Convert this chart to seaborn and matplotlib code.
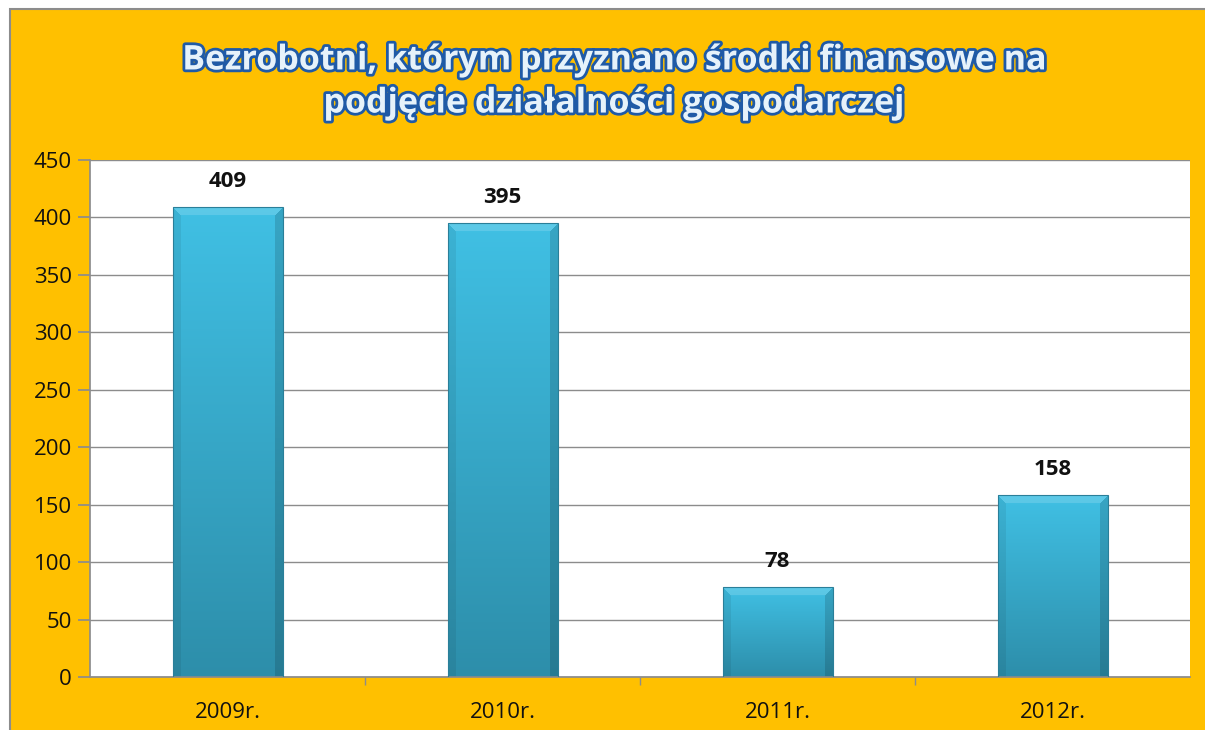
import numpy as np
import pandas as pd
import matplotlib
matplotlib.use("Agg")
import matplotlib.pyplot as plt
import matplotlib.patheffects as pe
from matplotlib.patches import Rectangle
import seaborn as sns

years = ['2009r.', '2010r.', '2011r.', '2012r.']
counts = [409, 395, 78, 158]
title_lines = 'Bezrobotni, którym przyznano środki finansowe na\npodjęcie działalności gospodarczej'

df = pd.DataFrame({'rok': years, 'liczba': counts})

sns.set_theme(style='white')
plt.rcParams['font.family'] = ['Open Sans', 'DejaVu Sans']

fig = plt.figure(figsize=(12.05, 7.3), dpi=100, facecolor='white')

# orange frame behind everything (runs off the right and bottom edges)
fig.patches.append(Rectangle((10 / 1205, -0.05), 1.0, 1.05 - 9 / 730,
                             transform=fig.transFigure, facecolor='#FFC000',
                             edgecolor='#8C8C8C', linewidth=1.5, zorder=-10))

ax = fig.add_axes([90 / 1205, 1 - 677 / 730, 1100 / 1205, 517 / 730])
ax.set_facecolor('white')

sns.barplot(data=df, x='rok', y='liczba', color='#3BB5DA', width=0.4,
            saturation=1, ax=ax, zorder=3)

ax.set_ylim(0, 450)
ax.set_xlim(-0.5, 3.5)
ax.set_yticks(range(0, 451, 50))
ax.yaxis.grid(True, color='#8C8C8C', linewidth=1.0, zorder=0)
ax.set_axisbelow(True)
ax.set_xlabel('')
ax.set_ylabel('')
for side in ['top', 'right']:
    ax.spines[side].set_visible(False)
ax.spines['left'].set_color('#8C8C8C')
ax.spines['bottom'].set_color('#8C8C8C')
ax.tick_params(axis='y', left=True, length=9, color='#8C8C8C', labelsize=16,
               labelcolor='#111111', pad=4)
ax.tick_params(axis='x', bottom=False, labelsize=16, labelcolor='#111111', pad=12)
# small ticks between categories
ax.set_xticks([0.5, 1.5, 2.5], minor=True)
ax.tick_params(axis='x', which='minor', bottom=True, length=6, color='#8C8C8C')

# gradient + soft bevel for each bar
fig.canvas.draw()
top_c = np.array(matplotlib.colors.to_rgb('#40C0E4'))
bot_c = np.array(matplotlib.colors.to_rgb('#2D8EAA'))
for bar in ax.patches:
    x0, y0 = bar.get_x(), bar.get_y()
    w, h = bar.get_width(), bar.get_height()
    p0 = ax.transData.transform((x0, y0))
    p1 = ax.transData.transform((x0 + w, y0 + h))
    cols = max(int(abs(p1[0] - p0[0])), 2)
    rows = max(int(abs(p1[1] - p0[1])), 2)
    t = np.linspace(0, 1, rows)[:, None, None]
    img = top_c * (1 - t) + bot_c * t
    img = np.repeat(img, cols, axis=1)
    bev = 8
    yy, xx = np.mgrid[0:rows, 0:cols]
    top_edge = (yy < bev) & (xx >= yy) & (xx < cols - yy)
    left_edge = (xx < bev) & ~top_edge
    right_edge = (xx >= cols - bev) & ~top_edge
    img[top_edge] = img[top_edge] * 0.85 + 0.15
    img[left_edge] *= 0.93
    img[right_edge] *= 0.86
    bar.set_facecolor('none')
    bar.set_edgecolor('#2A7F99')
    bar.set_linewidth(0.8)
    ax.imshow(img, extent=(x0, x0 + w, y0, y0 + h), aspect='auto',
              zorder=2.5, interpolation='bilinear')
ax.set_xlim(-0.5, 3.5)
ax.set_ylim(0, 450)

ax.bar_label(ax.containers[0], labels=[str(v) for v in counts], padding=11,
             fontsize=16, fontweight='bold', color='#111111')

fig.text(0.509, 1 - 82 / 730, title_lines, ha='center', va='center',
         fontsize=24.5, fontweight='bold', color='#E6F2FA', linespacing=1.35,
         path_effects=[pe.withStroke(linewidth=4, foreground='#1F5AA6')])

fig.savefig('out.png', dpi=100, facecolor=fig.get_facecolor())
